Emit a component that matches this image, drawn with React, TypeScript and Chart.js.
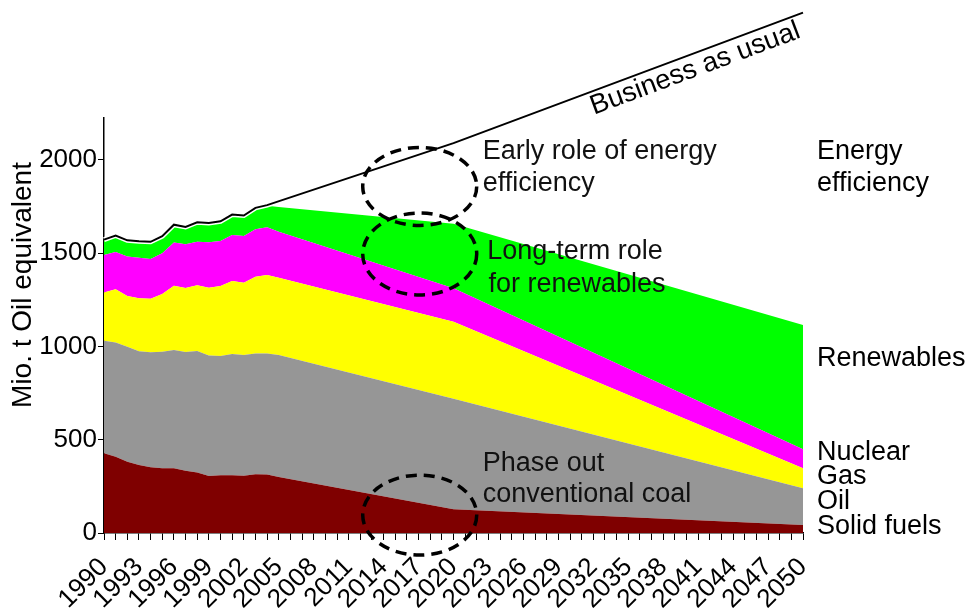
import React, { useEffect, useRef } from "react";
import { Chart, registerables } from "chart.js";

Chart.register(...registerables);

// ---- Data (Mio. t oil equivalent) ----
const years = [1990, 1991, 1992, 1993, 1994, 1995, 1996, 1997, 1998, 1999, 2000, 2001, 2002, 2003, 2004, 2005, 2020, 2050];
const solidFuels = [427, 409, 382, 365, 352, 347, 347, 334, 324, 306, 309, 309, 307, 315, 313, 300, 127, 43];
const oil = [604, 612, 617, 609, 617, 625, 634, 637, 652, 645, 640, 651, 647, 648, 650, 655, 593, 197];
const gas = [258, 286, 272, 284, 287, 310, 345, 343, 352, 364, 375, 391, 388, 411, 420, 413, 413, 107];
const nuclear = [202, 200, 211, 218, 213, 218, 231, 234, 234, 244, 242, 247, 250, 254, 256, 247, 179, 102];
const renewables = [80, 86, 85, 86, 90, 89, 94, 91, 102, 101, 103, 107, 108, 113, 116, 133, 346, 666];

const bauYears = [1990, 1991, 1992, 1993, 1994, 1995, 1996, 1997, 1998, 1999, 2000, 2001, 2002, 2003, 2004, 2020, 2050];
const bauValues = [1573, 1595, 1569, 1564, 1561, 1591, 1653, 1641, 1666, 1662, 1671, 1707, 1702, 1743, 1758, 2090, 2790];

const seriesNames = ["Solid fuels", "Oil", "Gas", "Nuclear", "Renewables"];
const seriesColors = ["#7f0000", "#969696", "#ffff00", "#ff00ff", "#00ff00"];

const yTicks = [0, 500, 1000, 1500, 2000];
const xLabelStep = 3;

// ---- Annotations ----
const sideLabels = [
  { text: "Energy", value: 2043 },
  { text: "efficiency", value: 1871 },
  { text: "Renewables", value: 938 },
  { text: "Nuclear", value: 429 },
  { text: "Gas", value: 300 },
  { text: "Oil", value: 166 },
  { text: "Solid fuels", value: 32 },
];
const notes = [
  { text: "Early role of energy", year: 2022.5, value: 2043 },
  { text: "efficiency", year: 2022.5, value: 1871 },
  { text: "Long-term role", year: 2022.9, value: 1507 },
  { text: "for renewables", year: 2023.0, value: 1330 },
  { text: "Phase out", year: 2022.5, value: 370 },
  { text: "conventional coal", year: 2022.5, value: 204 },
];
const ellipses = [
  { year: 2017.1, value: 1858, rx: 57, ry: 39 },
  { year: 2017.1, value: 1496, rx: 57, ry: 41 },
  { year: 2017.1, value: 96, rx: 57, ry: 40 },
];
const bauText = "Business as usual";

const FONT = '"Liberation Sans", Arial, Helvetica, sans-serif';

const toPoints = (xs: number[], ys: number[]) => xs.map((x, i) => ({ x, y: ys[i] }));

const annotationPlugin = {
  id: "annotations",
  afterDraw(chart: any) {
    const { ctx, chartArea, scales } = chart;
    const x = scales.x;
    const y = scales.y;
    ctx.save();
    // dashed ellipses
    ctx.setLineDash([11, 7]);
    ctx.lineWidth = 3.5;
    ctx.strokeStyle = "#000";
    for (const e of ellipses) {
      ctx.beginPath();
      ctx.ellipse(x.getPixelForValue(e.year), y.getPixelForValue(e.value), e.rx, e.ry, 0, 0, Math.PI * 2);
      ctx.stroke();
    }
    ctx.setLineDash([]);

    ctx.font = `27px ${FONT}`;
    ctx.textBaseline = "middle";
    ctx.textAlign = "left";
    ctx.fillStyle = "#111";
    for (const n of notes) {
      ctx.fillText(n.text, x.getPixelForValue(n.year), y.getPixelForValue(n.value));
    }
    ctx.fillStyle = "#000";
    for (const l of sideLabels) {
      ctx.fillText(l.text, chartArea.right + 14, y.getPixelForValue(l.value));
    }

    // Y axis title
    ctx.save();
    ctx.font = `28px ${FONT}`;
    ctx.translate(23, 285);
    ctx.rotate(-Math.PI / 2);
    ctx.textAlign = "center";
    ctx.fillText("Mio. t Oil equivalent", 0, 0);
    ctx.restore();

    // Business as usual label along the line
    const n = bauYears.length;
    const px1 = x.getPixelForValue(bauYears[n - 2]);
    const py1 = y.getPixelForValue(bauValues[n - 2]);
    const px2 = x.getPixelForValue(bauYears[n - 1]);
    const py2 = y.getPixelForValue(bauValues[n - 1]);
    const ang = Math.atan2(py2 - py1, px2 - px1);
    const ax = x.getPixelForValue(2040.3);
    const t = (ax - px1) / (px2 - px1);
    const ay = py1 + t * (py2 - py1);
    ctx.font = `27.5px ${FONT}`;
    ctx.translate(ax, ay);
    ctx.rotate(ang);
    ctx.textAlign = "center";
    ctx.textBaseline = "middle";
    ctx.fillText(bauText, 0, 15);
    ctx.restore();
  },
};

export default function App() {
  const ref = useRef<HTMLCanvasElement | null>(null);
  useEffect(() => {
    if (!ref.current) return;
    Chart.defaults.font.family = FONT;
    const stackSeries = [solidFuels, oil, gas, nuclear, renewables];
    const datasets: any[] = stackSeries.map((vals, i) => ({
      label: seriesNames[i],
      data: toPoints(years, vals),
      backgroundColor: seriesColors[i],
      borderColor: seriesColors[i],
      borderWidth: 0,
      pointRadius: 0,
      fill: i === 0 ? "origin" : "-1",
      stack: "energy",
      tension: 0,
    }));
    datasets.push({
      label: "BAU halo",
      data: toPoints(bauYears, bauValues),
      borderColor: "#fff",
      borderWidth: 5,
      pointRadius: 0,
      fill: false,
      stack: "bau1",
      clip: false,
      order: -1,
    });
    datasets.push({
      label: "Business as usual",
      data: toPoints(bauYears, bauValues),
      borderColor: "#000",
      borderWidth: 2,
      pointRadius: 0,
      fill: false,
      stack: "bau2",
      clip: false,
      order: -2,
    });

    const chart = new Chart(ref.current, {
      type: "line",
      data: { datasets },
      options: {
        animation: false,
        responsive: false,
        devicePixelRatio: 1,
        layout: { padding: { left: 0, top: 118, right: 165, bottom: 0 } },
        plugins: { legend: { display: false }, tooltip: { enabled: false } },
        scales: {
          x: {
            type: "linear",
            min: 1990,
            max: 2050,
            offset: false,
            afterFit: (s: any) => {
              s.height = 77;
            },
            border: { display: true, color: "#000", width: 1.5 },
            grid: { display: true, drawOnChartArea: false, drawTicks: true, tickLength: 7, color: "#000", lineWidth: 1 },
            ticks: {
              stepSize: 1,
              autoSkip: false,
              maxRotation: 45,
              minRotation: 45,
              padding: 12,
              color: "#000",
              font: { size: 26 },
              callback: (v: any) => {
                const yr = Math.round(Number(v));
                return (yr - 1990) % xLabelStep === 0 ? String(yr) : "";
              },
            },
          },
          y: {
            type: "linear",
            stacked: true,
            min: 0,
            max: 2225,
            afterFit: (s: any) => {
              s.width = 104;
            },
            afterBuildTicks: (s: any) => {
              s.ticks = yTicks.map((v) => ({ value: v }));
            },
            border: { display: true, color: "#000", width: 1.5 },
            grid: { display: true, drawOnChartArea: false, drawTicks: true, tickLength: 6, color: "#000", lineWidth: 1 },
            ticks: {
              color: "#000",
              padding: 1,
              font: { size: 26 },
              callback: (v: any) => String(Math.round(Number(v))),
            },
            title: { display: false },
          },
        },
      },
      plugins: [annotationPlugin],
    } as any);
    return () => chart.destroy();
  }, []);

  return (
    <div style={{ position: "absolute", left: 0, top: 0, width: 968, height: 610, background: "#fff" }}>
      <canvas ref={ref} width={968} height={610} style={{ display: "block", width: 968, height: 610 }} />
    </div>
  );
}
